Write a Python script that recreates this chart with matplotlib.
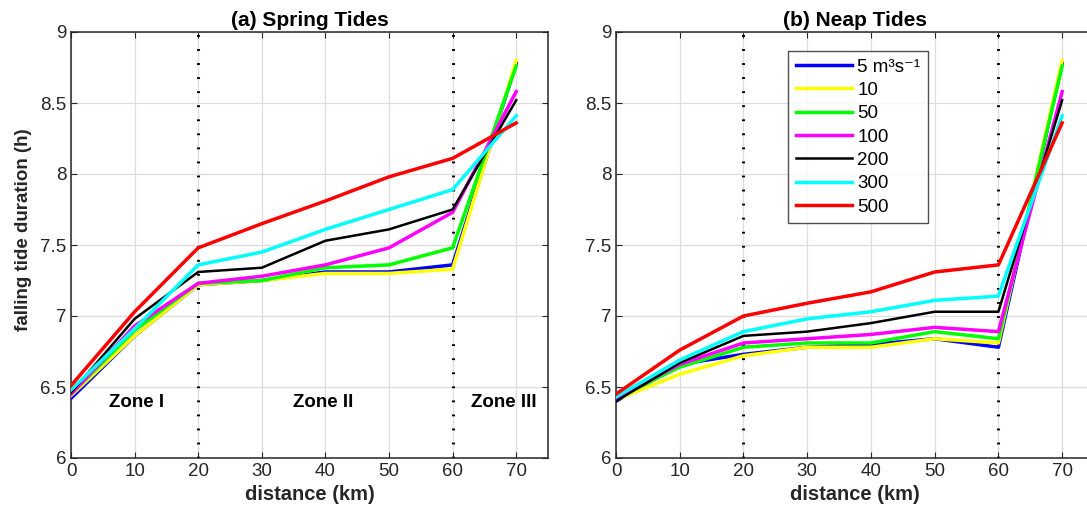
import numpy as np
import matplotlib
matplotlib.use('Agg')
import matplotlib.pyplot as plt

plt.rcParams['font.family'] = ['Liberation Sans', 'DejaVu Sans']

# distance along the estuary (km)
distance = [0, 10, 20, 30, 40, 50, 60, 70]

# river discharge labels
discharge = ['5 m\u00b3s\u207b\u00b9', '10', '50', '100', '200', '300', '500']
colors = ['#0000ff', '#ffff00', '#00ff00', '#ff00ff', '#000000', '#00ffff', '#ff0000']
widths = [2.5, 2.5, 2.5, 2.5, 1.8, 2.5, 2.5]

# falling tide duration (h), spring tides
spring = [
    [6.42, 6.86, 7.22, 7.25, 7.31, 7.31, 7.36, 8.78],   # 5
    [6.44, 6.86, 7.22, 7.25, 7.30, 7.30, 7.33, 8.80],   # 10
    [6.45, 6.90, 7.23, 7.25, 7.34, 7.36, 7.48, 8.76],   # 50
    [6.45, 6.93, 7.23, 7.28, 7.36, 7.48, 7.73, 8.58],   # 100
    [6.46, 6.98, 7.31, 7.34, 7.53, 7.61, 7.75, 8.52],   # 200
    [6.48, 6.91, 7.36, 7.45, 7.61, 7.75, 7.89, 8.41],   # 300
    [6.51, 7.03, 7.48, 7.65, 7.81, 7.98, 8.11, 8.36],   # 500
]

# falling tide duration (h), neap tides
neap = [
    [6.40, 6.66, 6.73, 6.78, 6.80, 6.84, 6.78, 8.78],   # 5
    [6.41, 6.59, 6.72, 6.78, 6.78, 6.84, 6.81, 8.80],   # 10
    [6.42, 6.64, 6.78, 6.81, 6.81, 6.89, 6.84, 8.76],   # 50
    [6.42, 6.66, 6.81, 6.84, 6.87, 6.92, 6.89, 8.58],   # 100
    [6.40, 6.67, 6.86, 6.89, 6.95, 7.03, 7.03, 8.52],   # 200
    [6.43, 6.69, 6.89, 6.98, 7.03, 7.11, 7.14, 8.41],   # 300
    [6.45, 6.76, 7.00, 7.09, 7.17, 7.31, 7.36, 8.36],   # 500
]

zone_bounds = [20, 60]
zone_names = ['Zone I', 'Zone II', 'Zone III']
zone_x = [10.3, 39.6, 68.0]

fig = plt.figure(figsize=(10.87, 5.17), dpi=100)
ax1 = fig.add_axes([71/1087, 59/517, 477/1087, 426/517])
ax2 = fig.add_axes([616/1087, 59/517, 478/1087, 426/517])

for ax, data, title in [(ax1, spring, '(a) Spring Tides'), (ax2, neap, '(b) Neap Tides')]:
    for vals, c, lw, lab in zip(data, colors, widths, discharge):
        ax.plot(distance, vals, color=c, lw=lw, label=lab, zorder=3)
    for xb in zone_bounds:
        ax.axvline(xb, color='black', ls=(0, (0.6, 4.0)), lw=2.2, zorder=2)
    ax.set_xlim(0, 75)
    ax.set_ylim(6, 9)
    ax.set_xticks(range(0, 80, 10))
    ax.set_yticks([6, 6.5, 7, 7.5, 8, 8.5, 9])
    ax.set_yticklabels(['6', '6.5', '7', '7.5', '8', '8.5', '9'])
    ax.grid(True, color='#dddddd', lw=0.9)
    ax.set_axisbelow(True)
    ax.tick_params(direction='in', top=True, right=True, labelsize=13.5,
                   length=4, color='#262626', labelcolor='#262626')
    for s in ax.spines.values():
        s.set_color('#262626')
        s.set_linewidth(1.1)
    ax.set_title(title, fontsize=15, fontweight='bold', pad=4)
    ax.set_xlabel('distance (km)', fontsize=14.5, fontweight='bold', color='#262626')

for name, xz in zip(zone_names, zone_x):
    ax1.text(xz, 6.39, name, ha='center', va='center', fontsize=13.5, fontweight='bold')

ax1.set_ylabel('falling tide duration (h)', fontsize=13.5, fontweight='bold', color='#262626')
ax1.yaxis.set_label_coords(-0.082, 0.535)

leg = ax2.legend(loc='upper left', bbox_to_anchor=(172/478, 1 - 19/426), fontsize=13.5,
                 frameon=True, fancybox=False, edgecolor='#262626', handlelength=3.0,
                 labelspacing=0.33, borderpad=0.4, handletextpad=0.3, borderaxespad=0)
leg.get_frame().set_linewidth(1.0)

fig.savefig('out.png', dpi=100)
